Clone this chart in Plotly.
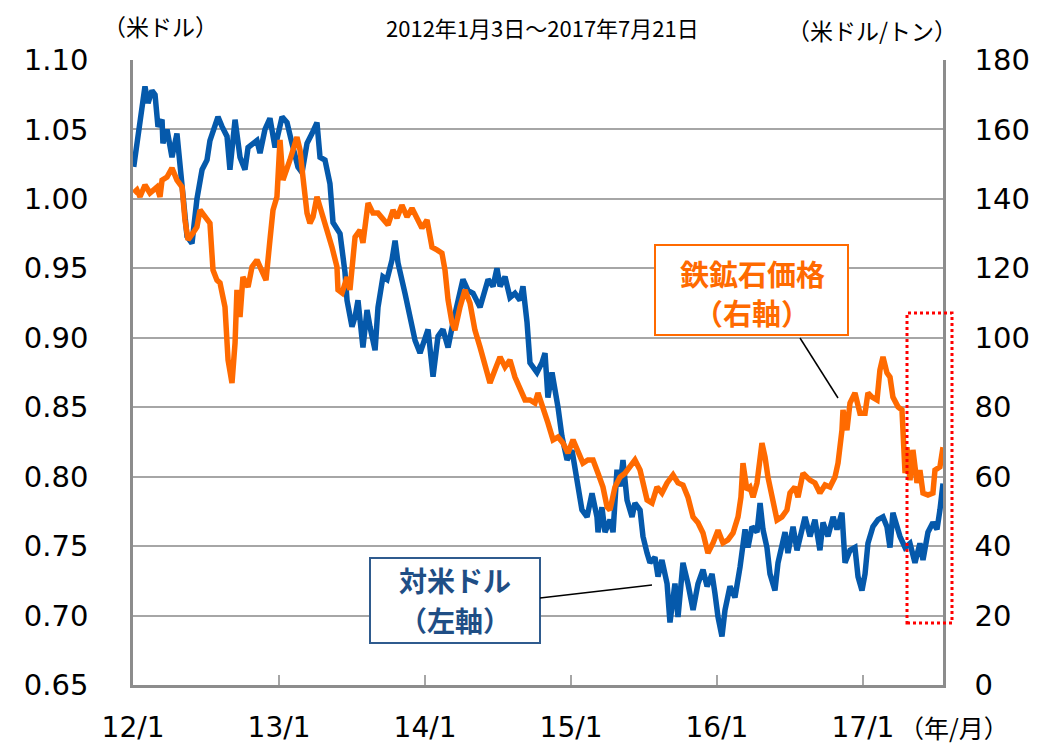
import plotly.graph_objects as go

# AUD/USD (left axis) -- x in fractional years
aud_t = [2012.005, 2012.034, 2012.082, 2012.103, 2012.130, 2012.151, 2012.171, 2012.199, 2012.205, 2012.233,
         2012.267, 2012.301, 2012.322, 2012.349, 2012.370, 2012.404, 2012.438, 2012.473, 2012.507, 2012.527,
         2012.582, 2012.610, 2012.644, 2012.664, 2012.699, 2012.733, 2012.767, 2012.788, 2012.849, 2012.870,
         2012.904, 2012.938, 2012.973, 2013.021, 2013.055, 2013.089, 2013.130, 2013.158, 2013.192, 2013.226,
         2013.260, 2013.281, 2013.315, 2013.349, 2013.370, 2013.418, 2013.438, 2013.452, 2013.466, 2013.500,
         2013.521, 2013.541, 2013.575, 2013.603, 2013.623, 2013.658, 2013.678, 2013.712, 2013.740, 2013.774,
         2013.795, 2013.815, 2013.863, 2013.897, 2013.932, 2013.966, 2014.000, 2014.021, 2014.055, 2014.089,
         2014.123, 2014.158, 2014.192, 2014.226, 2014.260, 2014.295, 2014.329, 2014.377, 2014.432, 2014.466,
         2014.493, 2014.514, 2014.548, 2014.582, 2014.616, 2014.651, 2014.671, 2014.699, 2014.719, 2014.767,
         2014.801, 2014.822, 2014.842, 2014.870, 2014.890, 2014.911, 2014.938, 2014.973, 2015.007, 2015.041,
         2015.062, 2015.075, 2015.110, 2015.144, 2015.178, 2015.185, 2015.212, 2015.233, 2015.267, 2015.288,
         2015.315, 2015.336, 2015.356, 2015.384, 2015.418, 2015.438, 2015.473, 2015.493, 2015.521, 2015.541,
         2015.575, 2015.596, 2015.623, 2015.658, 2015.678, 2015.712, 2015.733, 2015.767, 2015.801, 2015.836,
         2015.870, 2015.904, 2015.932, 2015.966, 2015.986, 2016.007, 2016.034, 2016.055, 2016.089, 2016.123,
         2016.158, 2016.192, 2016.212, 2016.240, 2016.274, 2016.295, 2016.315, 2016.342, 2016.363, 2016.397,
         2016.418, 2016.445, 2016.466, 2016.486, 2016.521, 2016.548, 2016.582, 2016.603, 2016.637, 2016.671,
         2016.705, 2016.726, 2016.760, 2016.795, 2016.822, 2016.856, 2016.877, 2016.911, 2016.945, 2016.966,
         2016.993, 2017.014, 2017.034, 2017.068, 2017.103, 2017.137, 2017.164, 2017.185, 2017.205, 2017.233,
         2017.253, 2017.288, 2017.322, 2017.356, 2017.390, 2017.411, 2017.445, 2017.479, 2017.507, 2017.527,
         2017.548]
aud_v = [1.023, 1.045, 1.081, 1.069, 1.078, 1.075, 1.052, 1.057, 1.040, 1.050,
         1.030, 1.047, 1.021, 0.995, 0.973, 0.968, 1.000, 1.021, 1.028, 1.042,
         1.059, 1.052, 1.045, 1.021, 1.057, 1.030, 1.021, 1.037, 1.042, 1.033,
         1.050, 1.058, 1.037, 1.059, 1.055, 1.040, 1.023, 1.019, 1.040, 1.047,
         1.055, 1.030, 1.028, 1.011, 0.983, 0.975, 0.958, 0.947, 0.927, 0.908,
         0.915, 0.927, 0.893, 0.920, 0.908, 0.891, 0.922, 0.944, 0.942, 0.956,
         0.970, 0.954, 0.932, 0.915, 0.898, 0.889, 0.898, 0.906, 0.872, 0.901,
         0.906, 0.893, 0.911, 0.927, 0.942, 0.934, 0.932, 0.922, 0.942, 0.937,
         0.950, 0.937, 0.944, 0.929, 0.932, 0.927, 0.937, 0.911, 0.882, 0.875,
         0.882, 0.889, 0.857, 0.875, 0.865, 0.850, 0.829, 0.812, 0.819, 0.800,
         0.785, 0.776, 0.771, 0.788, 0.771, 0.760, 0.778, 0.760, 0.769, 0.760,
         0.805, 0.793, 0.812, 0.783, 0.771, 0.781, 0.776, 0.757, 0.745, 0.738,
         0.742, 0.728, 0.740, 0.723, 0.695, 0.723, 0.699, 0.738, 0.723, 0.704,
         0.723, 0.733, 0.721, 0.730, 0.716, 0.699, 0.685, 0.704, 0.721, 0.713,
         0.735, 0.762, 0.749, 0.764, 0.760, 0.781, 0.762, 0.749, 0.730, 0.718,
         0.738, 0.749, 0.760, 0.745, 0.764, 0.747, 0.762, 0.771, 0.757, 0.769,
         0.747, 0.767, 0.757, 0.771, 0.762, 0.774, 0.738, 0.747, 0.749, 0.728,
         0.718, 0.730, 0.752, 0.764, 0.769, 0.771, 0.764, 0.749, 0.774, 0.764,
         0.757, 0.749, 0.752, 0.738, 0.752, 0.740, 0.760, 0.767, 0.762, 0.776,
         0.795]

# Iron ore price (right axis, USD/t)
ore_t = [2012.005, 2012.027, 2012.048, 2012.082, 2012.116, 2012.164, 2012.185, 2012.199, 2012.233, 2012.267,
         2012.301, 2012.336, 2012.356, 2012.377, 2012.411, 2012.438, 2012.459, 2012.493, 2012.527, 2012.548,
         2012.575, 2012.596, 2012.630, 2012.651, 2012.678, 2012.699, 2012.712, 2012.733, 2012.753, 2012.788,
         2012.815, 2012.849, 2012.884, 2012.911, 2012.938, 2012.959, 2012.986, 2013.007, 2013.027, 2013.055,
         2013.075, 2013.123, 2013.144, 2013.164, 2013.192, 2013.212, 2013.233, 2013.260, 2013.295, 2013.329,
         2013.363, 2013.397, 2013.404, 2013.432, 2013.466, 2013.486, 2013.521, 2013.555, 2013.575, 2013.610,
         2013.644, 2013.678, 2013.712, 2013.747, 2013.781, 2013.808, 2013.842, 2013.877, 2013.911, 2013.945,
         2013.979, 2014.014, 2014.048, 2014.082, 2014.116, 2014.137, 2014.158, 2014.185, 2014.205, 2014.240,
         2014.274, 2014.308, 2014.342, 2014.377, 2014.411, 2014.445, 2014.479, 2014.514, 2014.548, 2014.582,
         2014.616, 2014.651, 2014.685, 2014.719, 2014.753, 2014.774, 2014.808, 2014.842, 2014.877, 2014.911,
         2014.945, 2014.979, 2015.014, 2015.048, 2015.082, 2015.116, 2015.151, 2015.185, 2015.219, 2015.247,
         2015.267, 2015.301, 2015.336, 2015.370, 2015.404, 2015.438, 2015.473, 2015.493, 2015.521, 2015.555,
         2015.589, 2015.623, 2015.658, 2015.699, 2015.733, 2015.767, 2015.801, 2015.836, 2015.870, 2015.904,
         2015.938, 2015.973, 2016.007, 2016.041, 2016.075, 2016.110, 2016.144, 2016.164, 2016.178, 2016.205,
         2016.226, 2016.247, 2016.274, 2016.308, 2016.329, 2016.349, 2016.377, 2016.411, 2016.445, 2016.479,
         2016.500, 2016.534, 2016.555, 2016.589, 2016.637, 2016.671, 2016.705, 2016.740, 2016.774, 2016.808,
         2016.829, 2016.856, 2016.863, 2016.890, 2016.911, 2016.945, 2016.979, 2017.014, 2017.034, 2017.062,
         2017.096, 2017.116, 2017.137, 2017.164, 2017.185, 2017.205, 2017.240, 2017.267, 2017.288, 2017.301,
         2017.322, 2017.342, 2017.370, 2017.390, 2017.411, 2017.445, 2017.479, 2017.493, 2017.527, 2017.548]
ore_v = [141.7, 142.6, 140.6, 144.0, 141.7, 143.4, 140.6, 145.4, 146.3, 148.9,
         145.4, 143.4, 133.9, 128.2, 130.2, 131.9, 136.8, 134.8, 133.0, 119.5,
         116.6, 115.8, 108.9, 93.6, 87.0, 98.5, 113.8, 106.0, 117.5, 114.6,
         120.4, 122.4, 119.5, 116.6, 128.2, 136.8, 140.6, 157.0, 145.4, 148.3,
         151.2, 157.8, 154.1, 146.3, 135.9, 133.0, 134.8, 140.6, 135.9, 131.0,
         126.1, 120.4, 113.8, 112.9, 117.5, 113.8, 129.0, 131.0, 127.3, 138.8,
         135.9, 135.9, 133.9, 132.5, 136.8, 134.5, 138.2, 134.8, 137.3, 134.8,
         131.6, 133.9, 126.1, 125.3, 124.4, 119.5, 110.9, 104.3, 102.2, 108.9,
         113.8, 110.0, 102.2, 97.3, 91.6, 87.0, 90.7, 94.5, 91.6, 93.6,
         88.7, 85.0, 82.1, 82.1, 81.2, 84.1, 80.1, 75.5, 70.6, 71.4,
         69.7, 66.8, 70.6, 66.8, 63.9, 64.8, 64.8, 61.0, 57.0, 51.3,
         50.4, 57.0, 59.9, 61.0, 62.8, 64.8, 61.9, 58.2, 53.3, 52.4,
         57.0, 55.3, 58.2, 60.5, 58.2, 57.6, 54.1, 48.4, 46.7, 43.8,
         38.0, 40.9, 44.6, 40.9, 41.8, 43.8, 48.4, 54.1, 63.9, 56.2,
         57.0, 54.1, 58.2, 69.7, 65.7, 59.9, 54.1, 47.5, 48.4, 50.4,
         55.3, 57.0, 54.1, 61.0, 59.0, 58.2, 55.3, 57.6, 57.0, 59.9,
         63.9, 73.4, 79.2, 73.4, 81.2, 84.1, 78.3, 78.3, 84.1, 82.9,
         82.1, 90.7, 94.5, 89.9, 88.7, 82.9, 80.1, 79.2, 61.0, 68.5,
         59.0, 67.7, 58.2, 61.9, 55.3, 54.7, 55.3, 61.9, 62.8, 68.5]

year_ticks = [2012, 2013, 2014, 2015, 2016, 2017]
year_labels = ["12/1", "13/1", "14/1", "15/1", "16/1", "17/1"]
left_ticks = [0.65, 0.70, 0.75, 0.80, 0.85, 0.90, 0.95, 1.00, 1.05, 1.10]
right_ticks = [0, 20, 40, 60, 80, 100, 120, 140, 160, 180]

BLUE = "#0559ab"
ORANGE = "#ff6a00"
GRID = "#a6a6a6"
NUM_FONT = dict(family="DejaVu Sans", size=29, color="#000000")
X_FONT = dict(family="DejaVu Sans", size=28, color="#000000")
JP = "Noto Sans CJK JP"

fig = go.Figure()
fig.add_trace(go.Scatter(x=aud_t, y=aud_v, mode="lines", name="対米ドル",
                         line=dict(color=BLUE, width=5.5), yaxis="y"))
fig.add_trace(go.Scatter(x=ore_t, y=ore_v, mode="lines", name="鉄鉱石価格",
                         line=dict(color=ORANGE, width=5.5), yaxis="y2"))

# page has an 8px body margin, so the figure is 8px smaller and shifted
fig.update_layout(
    width=1041, height=736,
    margin=dict(l=125, r=106, t=52, b=59),
    paper_bgcolor="white", plot_bgcolor="white",
    showlegend=False,
    xaxis=dict(range=[2012, 2017.548], tickvals=year_ticks, ticktext=year_labels,
               ticks="inside", ticklen=10, tickwidth=1.5, tickcolor=GRID,
               showline=True, linecolor="#8c8c8c", linewidth=2.5, showgrid=False,
               zeroline=False, tickfont=X_FONT, ticklabelstandoff=16, automargin=False),
    yaxis=dict(range=[0.65, 1.10], tickvals=left_ticks,
               ticktext=[f"{v:.2f}" for v in left_ticks],
               showgrid=True, gridcolor=GRID, gridwidth=2,
               showline=True, linecolor="#8c8c8c", linewidth=2.5, zeroline=False,
               ticks="", tickfont=NUM_FONT, ticklabelstandoff=36, automargin=False),
    yaxis2=dict(range=[0, 180], tickvals=right_ticks, overlaying="y", side="right",
                showgrid=False, showline=True, linecolor="#8c8c8c", linewidth=2.5,
                zeroline=False, ticks="", tickfont=NUM_FONT, ticklabelstandoff=23,
                automargin=False),
)

def px_x(p):
    return (p - 133) / 810.0

def px_y(p):
    return (685 - p) / 625.0

shapes = [
    # orange label box
    dict(type="rect", xref="paper", yref="paper", x0=px_x(655), x1=px_x(848), y0=px_y(335), y1=px_y(245),
         line=dict(color=ORANGE, width=2), fillcolor="white", layer="above"),
    dict(type="line", xref="paper", yref="paper", x0=px_x(800), y0=px_y(338), x1=px_x(838), y1=px_y(398),
         line=dict(color="black", width=1.5), layer="above"),
    # blue label box
    dict(type="rect", xref="paper", yref="paper", x0=px_x(370), x1=px_x(540), y0=px_y(643), y1=px_y(558),
         line=dict(color="#2f5b8e", width=2), fillcolor="white", layer="above"),
    dict(type="line", xref="paper", yref="paper", x0=px_x(540), y0=px_y(598), x1=px_x(652), y1=px_y(585),
         line=dict(color="black", width=1.5), layer="above"),
    # red dotted highlight
    dict(type="rect", xref="paper", yref="paper", x0=px_x(907), x1=px_x(952), y0=px_y(623), y1=px_y(313),
         line=dict(color="#ff0000", width=3, dash="dot"), fillcolor="rgba(0,0,0,0)", layer="above"),
]
fig.update_layout(shapes=shapes)

annots = [
    dict(text="鉄鉱石価格", x=px_x(752), y=px_y(273), font=dict(family=JP, size=29, color=ORANGE, weight="bold")),
    dict(text="（右軸）", x=px_x(752), y=px_y(312), font=dict(family=JP, size=29, color=ORANGE, weight="bold")),
    dict(text="対米ドル", x=px_x(455), y=px_y(580), font=dict(family=JP, size=28, color="#1f4e85", weight="bold")),
    dict(text="（左軸）", x=px_x(455), y=px_y(620), font=dict(family=JP, size=28, color="#1f4e85", weight="bold")),
    dict(text="（米ドル）", x=px_x(160), y=px_y(26), font=dict(family=JP, size=23, color="black")),
    dict(text="（米ドル/トン）", x=px_x(872), y=px_y(30), font=dict(family=JP, size=23, color="black")),
    dict(text="（年/月）", x=px_x(954), y=px_y(727), font=dict(family=JP, size=25, color="black")),
]
for a in annots:
    fig.add_annotation(xref="paper", yref="paper", showarrow=False, xanchor="center", yanchor="middle", **a)

# period caption at the very top of the page
fig.add_annotation(xref="paper", yref="paper", showarrow=False, xanchor="center", yanchor="top",
                   text="2012年1月3日～2017年7月21日", x=px_x(542), y=px_y(9),
                   font=dict(family=JP, size=22, color="black"))

fig.write_html("out.html")
